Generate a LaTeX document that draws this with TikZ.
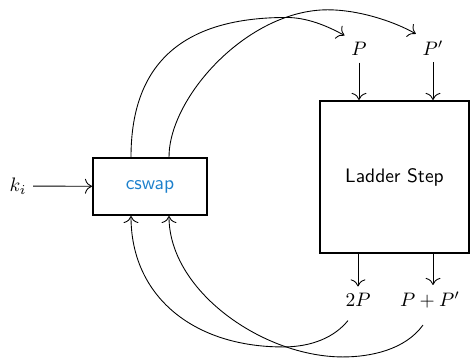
\documentclass[tikz,border=0pt]{standalone}
\usetikzlibrary{calc,arrows.meta}
\definecolor{swapblue}{RGB}{28,128,204}
\begin{document}
\begin{tikzpicture}[x=0.513pt,y=-0.513pt,
  >={To[scale=1.4]},
  blockbox/.style={draw,line width=1pt,rectangle,inner sep=0pt},
  wire/.style={->,line width=0.45pt},
  lbl/.style={inner sep=3.33pt}]
\useasboundingbox (0,0) rectangle (471,357);

% blocks
\node[blockbox,minimum width=58.5pt,minimum height=29.2pt,
      text=swapblue,font=\sffamily] (cswap) at (150,186.5) {cswap};
\node[blockbox,minimum width=76.4pt,minimum height=78pt,
      font=\sffamily] (ladder) at (394.5,177) {Ladder Step};

% labels
\node[lbl] (ki)  at (18,186)  {$k_i$};
\node[lbl] (P)   at (359,49)  {$P$};
\node[lbl] (Pp)  at (433,48)  {$P'$};
\node[lbl] (twoP) at (358,300) {$2P$};
\node[lbl] (PPp) at (430,300) {$P+P'$};

% straight wires
\draw[wire] (ki) -- (cswap);
\draw[wire] (P) -- (P |- ladder.north);
\draw[wire] (Pp) -- (Pp |- ladder.north);
\draw[wire] (ladder.south -| twoP) -- (twoP);
\draw[wire] (Pp |- ladder.south) -- (Pp |- PPp.north);

% swapped values fed into the ladder step
\draw[wire] ($(cswap.north)+(-19,0)$)
  .. controls +(0,-97) and +(-100,0) .. ($(P.north west)+(-58,-18)$)
  .. controls +(20,0) and +(-18,-10) .. (P.north west);
\draw[wire] ($(cswap.north)+(19,0)$)
  .. controls +(0,-60) and +(-80,0) .. ($(Pp.north west)+(-88,-24)$)
  .. controls +(30,0) and +(-23,-13) .. (Pp.north west);

% results fed back into the swap
\draw[wire] ($(twoP.south)+(-10,7)$)
  .. controls +(-13,16) and +(30,0) .. ($(cswap.south)+(133,131)$)
  .. controls +(-90,0) and +(0,80) .. ($(cswap.south)+(-19,0)$);
\draw[wire] ($(PPp.south)+(-7,10)$)
  .. controls +(-18,25) and +(27,0) .. ($(cswap.south)+(193,141)$)
  .. controls +(-80,0) and +(0,75) .. ($(cswap.south)+(19,0)$);
\end{tikzpicture}
\end{document}
